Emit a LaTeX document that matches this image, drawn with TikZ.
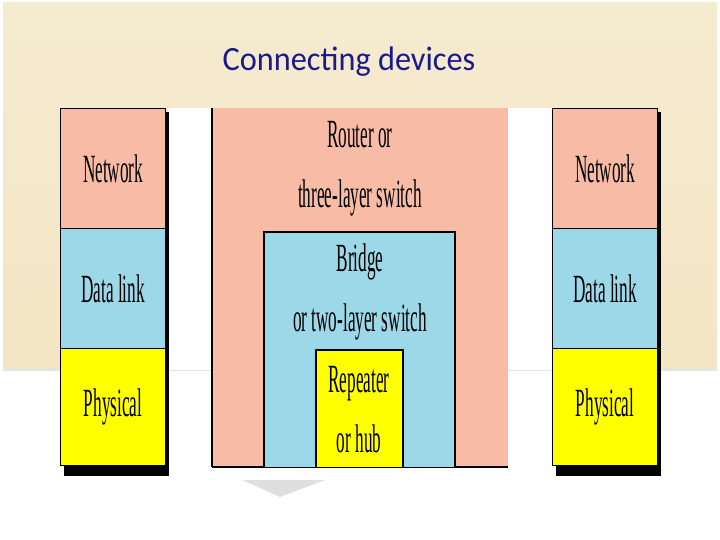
\documentclass[tikz,border=0pt]{standalone}
\usepackage{fontspec}
\setmainfont{Liberation Serif}
\newfontfamily\titlefont{Carlito}
\begin{document}
\begin{tikzpicture}[x=1pt,y=-1pt,
  lay/.style={draw=black,line width=1.2pt},
  lab/.style={font=\fontsize{40}{60}\selectfont,xscale=0.43,align=center,inner sep=0pt}]
\definecolor{salm}{HTML}{F8BCA6}
\definecolor{lblue}{HTML}{9DD8E8}
\definecolor{yel}{HTML}{FFFF00}
\definecolor{beige}{HTML}{F3E6C4}
\definecolor{tblue}{HTML}{1A1A8C}
\useasboundingbox (0,0) rectangle (720,540);
\fill[white] (0,0) rectangle (720,540);
\shade[top color=beige!80,bottom color=beige] (3,3) rectangle (717,368);
\fill[beige!60!gray!40] (3,368) rectangle (717,371);
\fill[white] (168,108) rectangle (552,370);
\fill[gray!25] (242,480) -- (325,480) -- (280,497) -- cycle;
\node[font=\titlefont\fontsize{34}{34}\selectfont,text=tblue,xscale=0.95] (title) at (349,62) {Connecting devices};
% shadows
\fill[black] (64,112) rectangle (169,476);
\fill[black] (556,112) rectangle (661,476);
% left stack
\node[lay,fill=salm,minimum width=105pt,minimum height=120pt,anchor=north west] (ln) at (60,108) {};
\node[lay,fill=lblue,minimum width=105pt,minimum height=120pt,anchor=north west] (ld) at (60,228) {};
\node[lay,fill=yel,minimum width=105pt,minimum height=117pt,anchor=north west] (lp) at (60,348) {};
\node[lab] at (ln.center) {Network};
\node[lab] at (ld.center) {Data link};
\node[lab] at (lp.center) {Physical};
% right stack
\node[lay,fill=salm,minimum width=105pt,minimum height=120pt,anchor=north west] (rn) at (552,108) {};
\node[lay,fill=lblue,minimum width=105pt,minimum height=120pt,anchor=north west] (rd) at (552,228) {};
\node[lay,fill=yel,minimum width=105pt,minimum height=117pt,anchor=north west] (rp) at (552,348) {};
\node[lab] at (rn.center) {Network};
\node[lab] at (rd.center) {Data link};
\node[lab] at (rp.center) {Physical};
% middle
\fill[salm] (212,108) rectangle (508,467);
\draw[line width=1.2pt] (212,467) -- (212,108);
\draw[line width=1.6pt] (212,467) -- (508,467);
\fill[lblue] (264,232) rectangle (455,467);
\draw[line width=1.2pt] (264,467) -- (264,232) -- (455,232) -- (455,467);
\fill[yel] (316,350) rectangle (403,467);
\draw[line width=1.2pt] (316,467) -- (316,350) -- (403,350) -- (403,467);
\node[lab] (router) at (360,169) {Router or\\three-layer switch};
\node[lab] (bridge) at (360,292) {Bridge\\or two-layer switch};
\node[lab] (rep) at (359,410) {Repeater\\or hub};
\end{tikzpicture}
\end{document}
